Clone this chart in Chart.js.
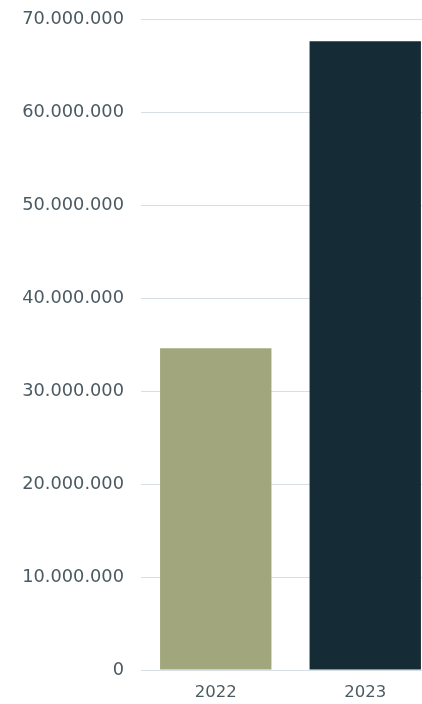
<!DOCTYPE html>
<html>
<head>
<meta charset="utf-8">
<script src="https://cdn.jsdelivr.net/npm/chart.js@4"></script>
<style>
  html, body { margin: 0; padding: 0; overflow: hidden; background: #fff; }
  #wrap { width: 440px; height: 704px; }
</style>
</head>
<body>
<div id="wrap"><canvas id="yearChart"></canvas></div>
<script>
// Jahreswerte
const years = ['2022', '2023'];
const totals = [34600000, 67600000];
const barColors = ['#a2a67c', '#152b35'];

const yMax = 70000000;
const yStep = 10000000;

// 70000000 -> "70.000.000"
function formatDots(v) {
    return String(v).replace(/\B(?=(\d{3})+(?!\d))/g, '.');
}

const textColor = '#4b5a61';
const fontFamily = "'DejaVu Sans', sans-serif";

const ctx = document.getElementById('yearChart').getContext('2d');
window.myChart = new Chart(ctx, {
    type: 'bar',
    data: {
        labels: years,
        datasets: [{
            data: totals,
            backgroundColor: barColors,
            borderWidth: 0,
            categoryPercentage: 1,
            barPercentage: 0.745
        }]
    },
    options: {
        responsive: true,
        maintainAspectRatio: false,
        animation: false,
        layout: {
            padding: { top: 19, bottom: 0, left: 0, right: 0 }
        },
        plugins: {
            legend: { display: false },
            tooltip: { enabled: false }
        },
        scales: {
            x: {
                afterFit: function (scale) { scale.height = 34; },
                grid: { display: false, drawTicks: false },
                border: { display: false },
                ticks: {
                    color: textColor,
                    padding: 13,
                    font: { family: fontFamily, size: 16.5 }
                }
            },
            y: {
                min: 0,
                max: yMax,
                afterFit: function (scale) {
                    // feste Achsenbreite, kein Zusatzabstand oben/unten
                    scale.width = 141;
                    scale.paddingTop = 0;
                    scale.paddingBottom = 0;
                },
                grid: { color: '#d6dfe3', lineWidth: 1, drawTicks: false },
                border: { display: false },
                ticks: {
                    stepSize: yStep,
                    color: textColor,
                    padding: 17,
                    font: { family: fontFamily, size: 17.8 },
                    callback: function (value) { return formatDots(value); }
                }
            }
        }
    }
});
</script>
</body>
</html>
